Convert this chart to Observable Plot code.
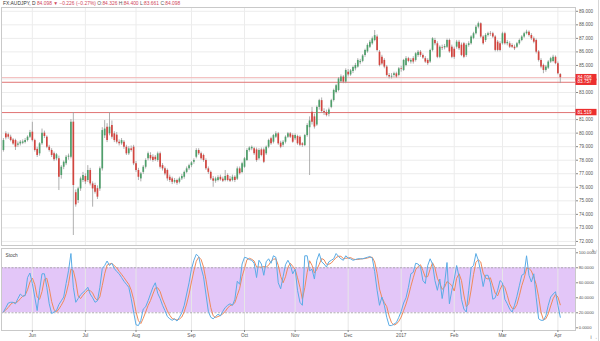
<!DOCTYPE html>
<html><head><meta charset="utf-8">
<script src="https://cdn.jsdelivr.net/npm/d3@7"></script>
<script src="https://cdn.jsdelivr.net/npm/@observablehq/plot@0.6"></script>
<style>
html,body{margin:0;padding:0;background:#fff;}
#wrap{position:relative;width:600px;height:341px;overflow:hidden;}
#main{position:absolute;left:0;top:0;}
#stoch{position:absolute;left:0;top:246px;}
#edge{position:absolute;left:598px;top:0;width:1px;height:341px;background:#d6d6d6;}
</style></head><body>
<div id="wrap"><div id="main"></div><div id="stoch"></div><div id="edge"></div></div>
<script>
// ---- data ----
const opens = [
78.72,79.95,79.88,79.70,79.50,79.45,79.10,79.20,79.25,79.30,
79.45,79.70,80.07,79.45,78.80,78.47,79.21,80.00,79.70,78.96,
78.72,78.47,78.10,78.10,76.87,77.48,77.73,78.22,78.22,80.81,
75.60,75.02,75.88,76.50,76.80,76.50,77.24,76.25,76.13,75.90,
75.88,77.36,79.80,80.44,79.95,80.56,79.95,79.85,79.33,79.21,
79.33,78.96,78.47,78.84,78.96,77.73,77.24,76.62,77.10,77.48,
78.10,78.35,78.22,78.22,77.98,78.47,77.60,77.36,77.24,76.74,
76.62,76.37,76.50,76.37,76.62,76.74,77.10,77.36,77.60,77.85,
78.22,78.72,78.47,78.35,77.98,77.36,77.10,76.62,76.45,76.50,
76.74,76.60,76.50,76.87,76.60,76.50,76.74,76.60,77.36,77.10,
77.48,77.98,78.72,78.84,78.84,78.76,78.10,78.76,78.76,78.47,
78.96,79.58,79.33,79.70,79.95,79.26,79.10,79.33,79.70,79.95,
79.82,79.58,79.75,79.70,79.21,79.08,79.82,80.40,81.55,81.20,
80.60,81.90,82.40,81.60,81.50,81.40,81.90,82.41,83.00,83.15,
83.80,84.14,83.77,84.50,84.30,84.55,84.75,84.88,85.20,85.30,
85.74,86.00,86.35,86.60,86.84,87.10,85.98,85.60,85.37,84.88,
84.26,84.14,84.26,84.38,84.26,84.75,84.63,85.00,85.50,85.25,
85.50,85.37,85.74,85.98,85.74,85.50,85.37,85.25,86.11,86.84,
86.60,85.60,86.30,86.30,86.35,86.84,86.35,86.20,86.35,86.72,
86.50,86.60,85.74,86.48,86.60,87.00,87.34,87.83,88.08,87.10,
86.84,87.22,87.34,87.34,87.10,86.72,86.60,86.60,87.34,86.60,
86.60,86.47,86.35,86.35,86.60,86.84,87.10,87.34,87.46,87.21,
86.97,86.84,86.00,85.37,85.00,84.63,84.80,85.25,85.30,85.60,
85.13,84.326];
const highs = [
79.60,80.10,80.00,79.85,79.60,79.55,79.35,79.45,79.50,79.60,
79.80,80.20,80.80,79.55,78.95,79.30,80.30,80.15,79.80,79.10,
78.85,78.60,78.50,78.30,77.60,77.95,78.35,78.45,81.00,81.52,
75.80,76.00,76.75,77.10,77.00,77.60,77.40,76.40,76.30,76.10,
77.50,80.40,80.93,80.70,81.52,80.90,80.10,80.05,79.50,79.60,
79.45,79.10,79.00,79.05,79.10,77.90,77.40,77.10,77.60,78.10,
78.60,78.55,78.40,78.35,78.60,78.60,77.75,77.50,77.35,76.90,
76.75,76.65,76.60,76.75,76.95,77.20,77.50,77.70,77.90,78.10,
78.85,78.85,78.60,78.45,78.10,77.50,77.20,76.80,76.75,76.85,
76.90,76.75,77.24,77.00,76.80,76.90,76.85,77.50,77.50,77.85,
78.20,78.85,79.00,79.05,78.95,78.90,78.85,78.90,78.90,79.05,
79.55,79.70,79.90,80.10,80.05,79.40,79.45,79.80,80.05,80.05,
79.95,79.95,79.85,79.80,79.30,79.90,80.70,81.20,81.90,81.40,
82.00,82.50,82.60,81.80,81.70,81.85,82.50,83.25,83.60,84.10,
84.30,84.25,84.75,84.70,84.70,84.95,85.15,85.50,85.45,85.80,
86.20,86.60,86.85,87.10,87.58,87.25,86.10,85.75,85.50,85.00,
84.40,84.40,84.50,84.50,84.85,84.95,85.45,85.65,85.60,85.50,
85.65,85.95,86.10,86.10,85.85,85.65,85.50,86.20,87.05,87.00,
86.75,86.45,86.50,86.55,86.95,86.95,86.50,86.35,86.85,86.85,
86.65,86.70,86.60,86.75,87.20,87.45,87.95,88.20,88.15,87.20,
87.35,87.45,87.50,87.45,87.20,86.85,86.75,87.45,87.45,86.85,
86.75,86.60,86.50,86.70,86.95,87.20,87.45,87.60,87.55,87.35,
87.10,86.95,86.10,85.50,85.10,85.00,85.35,85.60,85.75,85.70,
85.25,84.40];
const lows = [
78.60,79.50,79.55,79.35,79.10,78.72,78.95,79.05,79.15,79.20,
79.35,79.60,79.35,78.60,78.20,78.30,79.10,79.60,78.85,78.60,
78.20,77.90,77.95,75.76,76.60,77.30,77.60,78.00,78.10,72.44,
74.53,74.80,75.70,76.35,76.20,76.35,76.10,74.53,75.50,75.10,
75.70,77.20,79.60,79.30,79.80,79.55,79.30,79.20,79.05,79.10,
78.80,78.35,78.35,78.60,77.60,77.10,76.50,76.40,76.95,77.35,
77.95,77.95,77.85,77.90,77.85,77.35,77.20,76.85,76.45,76.35,
76.20,76.25,76.15,76.25,76.50,76.60,77.00,77.25,77.45,77.70,
78.10,78.35,78.00,77.85,77.25,76.95,76.50,76.00,76.30,76.40,
76.45,76.35,76.40,76.40,76.35,76.40,76.35,76.50,76.90,77.00,
77.40,77.90,78.60,78.70,78.35,77.85,78.00,78.25,77.75,78.35,
78.85,79.10,79.20,79.60,79.10,78.85,78.95,79.20,79.60,79.60,
79.25,79.45,79.10,79.00,78.95,79.00,79.70,76.87,80.60,80.30,
80.50,81.70,81.45,81.30,81.20,81.20,81.80,82.30,82.90,83.05,
83.70,83.65,83.65,84.15,84.20,84.40,84.60,84.80,85.05,85.20,
85.60,85.90,86.25,86.50,86.75,86.00,84.90,85.00,84.75,84.15,
84.00,84.00,84.10,84.05,84.15,84.50,84.55,84.90,85.20,85.10,
85.10,85.25,85.60,85.60,85.45,85.15,85.00,85.15,86.00,86.45,
85.50,85.50,86.10,86.15,86.25,85.90,85.50,85.45,86.20,86.10,
85.65,85.50,85.60,86.35,86.50,86.90,87.25,87.70,87.00,86.50,
86.70,87.10,87.15,87.00,86.00,86.00,86.00,86.50,86.50,86.45,
86.25,86.25,86.10,86.25,86.50,86.75,87.00,87.25,87.10,86.85,
86.60,85.85,85.25,84.75,84.39,84.50,84.70,85.15,85.20,85.05,
84.30,83.661];
const closes = [
79.45,79.65,79.70,79.45,79.20,78.96,79.20,79.33,79.35,79.45,
79.70,80.02,79.45,78.72,78.35,79.21,80.00,79.75,78.96,78.72,
78.35,78.03,78.40,76.74,77.48,77.85,78.22,78.30,80.81,76.13,
74.70,75.88,76.62,76.87,76.40,77.24,76.25,75.88,75.64,75.27,
77.36,80.19,80.30,79.45,80.44,79.70,79.45,79.33,79.21,79.45,
78.96,78.47,78.84,78.72,77.73,77.24,76.74,76.99,77.48,77.98,
78.47,78.10,77.98,78.03,78.47,77.48,77.36,76.99,76.62,76.50,
76.37,76.50,76.30,76.62,76.80,77.10,77.36,77.60,77.80,77.98,
78.72,78.47,78.10,77.98,77.36,77.10,76.62,76.45,76.62,76.70,
76.55,76.45,76.80,76.50,76.45,76.74,76.50,77.36,77.00,77.73,
78.10,78.72,78.90,78.95,78.47,77.98,78.72,78.35,77.85,78.96,
79.45,79.21,79.82,79.95,79.21,78.96,79.33,79.70,79.95,79.70,
79.33,79.82,79.21,79.10,79.10,79.82,80.56,80.90,80.80,80.45,
81.90,82.40,81.60,81.50,81.30,81.70,82.40,83.15,83.50,84.00,
84.14,83.77,84.63,84.30,84.60,84.85,85.00,85.37,85.30,85.70,
86.11,86.48,86.72,86.97,87.20,86.11,85.00,85.10,84.88,84.26,
84.14,84.20,84.38,84.14,84.75,84.70,85.37,85.50,85.30,85.37,
85.25,85.86,85.98,85.74,85.55,85.25,85.13,86.11,86.97,86.60,
85.60,86.35,86.25,86.40,86.84,86.00,85.60,85.60,86.72,86.23,
85.74,85.60,86.48,86.60,87.10,87.34,87.83,88.08,87.10,86.60,
87.22,87.34,87.30,87.10,86.11,86.11,86.11,87.34,86.60,86.70,
86.35,86.35,86.23,86.60,86.84,87.10,87.34,87.46,87.21,86.97,
86.72,85.98,85.37,84.88,84.63,84.88,85.25,85.50,85.60,85.13,
84.39,84.098];
const stochK = [
21,27,33,34,34,32,39,45,42,43,
67,73,59,41,23,50,72,72,54,32,
19,21,23,31,36,41,59,76,99,54,
34,39,44,47,50,54,45,40,34,36,
54,79,83,89,83,86,79,75,72,67,
62,58,54,39,21,4,3,10,25,28,
36,45,54,60,46,39,30,23,15,12,
10,12,9,14,20,30,45,60,78,90,
98,95,80,68,45,22,14,12,15,18,
16,22,27,30,32,30,38,62,58,85,
94,93,91,90,86,67,90,85,70,88,
92,86,96,94,60,52,68,84,90,84,
72,78,50,34,30,96,96,76,78,65,
90,99,88,85,81,88,90,92,99,95,
92,90,96,93,92,90,91,92,92,92,
93,94,95,93,75,50,30,41,30,14,
3,3,5,7,14,22,33,40,54,72,
74,86,85,81,63,59,83,92,85,63,
50,65,39,59,87,32,50,65,83,68,
38,25,21,50,80,83,99,90,74,55,
70,70,60,38,40,50,63,60,38,32,
25,21,30,42,56,70,72,96,70,61,
72,40,12,10,10,16,30,41,45,48,
30,14];
const monthLabels = ["Jun","Jul","Aug","Sep","Oct","Nov","Dec","2017","Feb","Mar","Apr"];
const priceTicks = [72,73,74,75,76,77,78,79,80,81,83,85,86,87,88,89];
const priceGrid = [72,73,74,75,76,77,78,79,80,81,82,83,84,85,86,87,88,89];
const stochTicks = [0,20,40,60,80,100];
const stochBand = [20,80];
const levels = [83.757, 81.519];
const lastPrice = 84.098;
const tags = [{v:84.098,t:"84.098"},{v:83.757,t:"83.757"},{v:81.519,t:"81.519"}];
const headerParts = [
  ["FX:AUDJPY, D ","#333"],["84.098 ","#d0475a"],["\u25BC ","#d0475a"],["\u22120.226 (\u22120.27%) ","#d0475a"],
  ["O:","#555"],["84.326 ","#d0475a"],["H:","#555"],["84.400 ","#d0475a"],
  ["L:","#555"],["83.661 ","#d0475a"],["C:","#555"],["84.098","#d0475a"]];
const startDate = new Date(Date.UTC(2016,4,16));

// ---- derived tables ----
const days = d3.utcDays(startDate, new Date(Date.UTC(2017,3,8)))
  .filter(d => d.getUTCDay() > 0 && d.getUTCDay() < 6).slice(0, closes.length);
const monthIdx = [];
days.forEach((d,i) => { if (i > 0 && d.getUTCMonth() !== days[i-1].getUTCMonth()) monthIdx.push(i); });
const candles = closes.map((c,i) => ({i, o: opens[i], h: highs[i], l: lows[i], c}));
const stoch = stochK.map((k,i) => ({i, k}));
const UP = "#4f9f6b", DOWN = "#d2453f";
const xDomain = [-0.8, 237.3];
const FONT = "Liberation Sans, Arial, sans-serif";

const main = Plot.plot({
  width: 600, height: 246, marginTop: 7, marginBottom: 1, marginLeft: 1, marginRight: 25,
  style: {fontFamily: FONT, fontSize: "4.6px", color: "#555", background: "transparent"},
  x: {domain: xDomain, axis: null},
  y: {domain: [71.70, 89.28], axis: null},
  marks: [
    Plot.gridY(priceGrid, {stroke: "#ececec", strokeOpacity: 1}),
    Plot.gridX(monthIdx, {stroke: "#ececec", strokeOpacity: 1}),
    Plot.ruleY(levels, {stroke: "#e07474", strokeWidth: 1}),
    Plot.ruleY([lastPrice], {stroke: "#f3b9b9", strokeWidth: 1}),
    Plot.ruleX(candles, {x: "i", y1: "l", y2: "h", stroke: "#9a9a9a", strokeWidth: 0.8}),
    Plot.ruleX(candles, {x: "i", y1: "o", y2: "c", stroke: d => d.c >= d.o ? UP : DOWN, strokeWidth: 1.7}),
    Plot.frame({stroke: "#c9c9c9"}),
    Plot.axisY(priceTicks, {anchor: "right", tickSize: 2, tickPadding: 1.5, tickFormat: d3.format(".3f"), fontSize: 4.6, fill: "#555", stroke: "#888"})
  ]
});
document.getElementById("main").appendChild(main);
{
  const svg = d3.select(main);
  const y = main.scale("y");
  for (const t of tags) {
    const yy = y.apply(t.v);
    svg.append("rect").attr("x", 575.5).attr("y", yy - 3.2).attr("width", 21).attr("height", 6.4).attr("fill", "#ec2f2f");
    svg.append("text").attr("x", 577.5).attr("y", yy + 1.6).attr("fill", "#fff").attr("text-anchor", "start")
      .attr("font-size", 4.6).attr("font-family", FONT).text(t.t);
  }
  const h = svg.append("text").attr("x", 3).attr("y", 5.2).attr("text-anchor", "start")
    .attr("font-size", 4.9).attr("font-family", FONT);
  for (const [s, c] of headerParts) h.append("tspan").attr("fill", c).text(s);
}

const st = Plot.plot({
  width: 600, height: 95, marginTop: 2, marginBottom: 11, marginLeft: 1, marginRight: 25,
  style: {fontFamily: FONT, fontSize: "4.6px", color: "#555", background: "transparent"},
  x: {domain: xDomain, axis: null},
  y: {domain: [-3.6, 105.7], axis: null},
  marks: [
    Plot.rect([stochBand], {x1: () => xDomain[0], x2: () => xDomain[1], y1: d => d[0], y2: d => d[1], fill: "#e3c6f8"}),
    Plot.gridX(monthIdx, {stroke: "#e6e6e6", strokeOpacity: 1}),
    Plot.ruleY(stochBand, {stroke: "#9c9c9c", strokeDasharray: "2,1.5", strokeWidth: 0.8}),
    Plot.line(stoch, Plot.windowY({k: 3, anchor: "end"}, {x: "i", y: "k", stroke: "#ef8a5a", strokeWidth: 1})),
    Plot.line(stoch, {x: "i", y: "k", stroke: "#5aace6", strokeWidth: 1}),
    Plot.frame({stroke: "#c9c9c9"}),
    Plot.axisY(stochTicks, {anchor: "right", tickSize: 2, tickPadding: 1.2, tickFormat: d3.format(".4f"), fontSize: 4.2, fill: "#555", stroke: "#888"}),
    Plot.axisX(monthIdx, {anchor: "bottom", tickSize: 2, tickPadding: 1, tickFormat: d => monthLabels[monthIdx.indexOf(d)], fontSize: 4.6, fill: "#555", stroke: "#888"}),
    Plot.text(["Stoch"], {frameAnchor: "top-left", dx: 4, dy: 5, fontSize: 4.8, fill: "#444"})
  ]
});
document.getElementById("stoch").appendChild(st);
</script></body></html>
